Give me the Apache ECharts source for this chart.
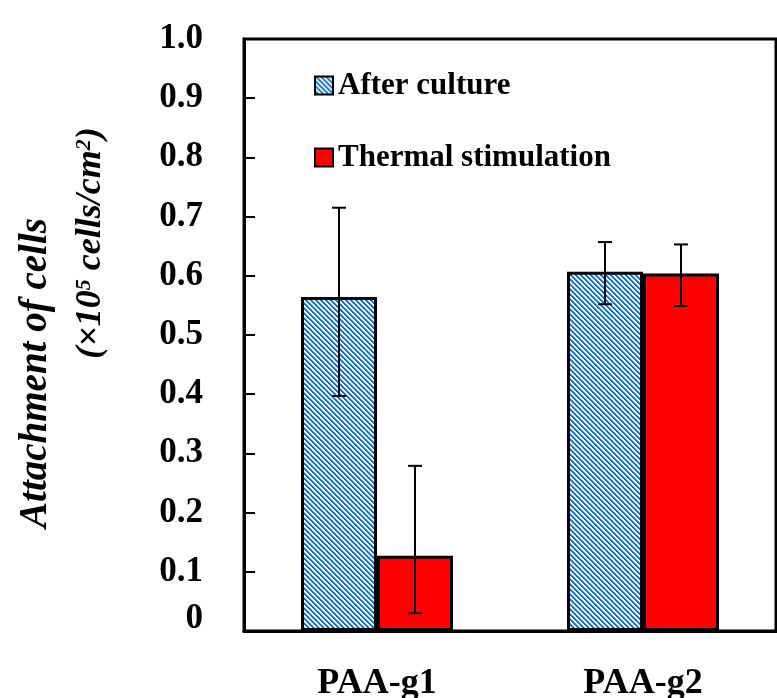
<!DOCTYPE html>
<html>
<head>
<meta charset="utf-8">
<script src="https://cdn.jsdelivr.net/npm/echarts@6/dist/echarts.min.js"></script>
<style>
  html, body { margin: 0; padding: 0; background: #fff; }
  #chart { width: 777px; height: 698px; }
</style>
</head>
<body>
<div id="chart"></div>
<script>
var categories = ['PAA-g1', 'PAA-g2'];
var seriesNames = ['After culture', 'Thermal stimulation'];
var afterCulture = [0.564, 0.607];
var afterLow = [0.397, 0.552];
var afterHigh = [0.715, 0.657];
var thermal = [0.127, 0.604];
var thermalLow = [0.030, 0.549];
var thermalHigh = [0.279, 0.653];
var yTicks = [0, 0.1, 0.2, 0.3, 0.4, 0.5, 0.6, 0.7, 0.8, 0.9, 1.0];

var serif = '"Liberation Serif", "Times New Roman", serif';
var barW = 76;

// blue / white diagonal hatch, 5px period
function hatch () {
  var s = 5;
  var shades = [[16, 112, 196], [16, 112, 196], [120, 176, 226], [255, 255, 255], [255, 255, 255]];
  var c = document.createElement('canvas');
  c.width = s; c.height = s;
  var ctx = c.getContext('2d');
  var img = ctx.createImageData(s, s);
  for (var y = 0; y < s; y++) {
    for (var x = 0; x < s; x++) {
      var i = (y * s + x) * 4;
      var col = shades[(x - y + s * 2) % s];
      img.data[i] = col[0];
      img.data[i + 1] = col[1];
      img.data[i + 2] = col[2];
      img.data[i + 3] = 255;
    }
  }
  ctx.putImageData(img, 0, 0);
  return c;
}
var bluePattern = { image: hatch(), repeat: 'repeat' };

function errData (low, high) {
  return low.map(function (v, i) { return [i, v, high[i]]; });
}

function errBar (offset) {
  return function (params, api) {
    var top = api.coord([api.value(0), api.value(2)]);
    var bot = api.coord([api.value(0), api.value(1)]);
    var x = top[0] + offset;
    var st = { stroke: '#000', lineWidth: 2 };
    return {
      type: 'group',
      children: [
        { type: 'line', shape: { x1: x, y1: top[1], x2: x, y2: bot[1] }, style: st },
        { type: 'line', shape: { x1: x - 7, y1: top[1], x2: x + 7, y2: top[1] }, style: st },
        { type: 'line', shape: { x1: x - 7, y1: bot[1], x2: x + 7, y2: bot[1] }, style: st }
      ]
    };
  };
}

var chart = echarts.init(document.getElementById('chart'));
var option = {
  animation: false,
  backgroundColor: '#fff',
  grid: {
    left: 244, right: 1, top: 39, bottom: 67,
    show: true, borderColor: '#000', borderWidth: 3,
    outerBoundsMode: 'none'
  },
  legend: {
    orient: 'vertical',
    left: 314, top: 70, padding: 0,
    itemWidth: 18, itemHeight: 18, itemGap: 41,
    icon: 'rect',
    data: seriesNames,
    itemStyle: { borderColor: '#000', borderWidth: 2 },
    textStyle: { fontFamily: serif, fontWeight: 'bold', fontSize: 31, color: '#000' }
  },
  xAxis: {
    type: 'category',
    data: categories,
    axisLine: { lineStyle: { color: '#000', width: 3 } },
    axisTick: { inside: true, length: 10, lineStyle: { color: '#000', width: 2 } },
    axisLabel: { margin: 35, fontFamily: serif, fontWeight: 'bold', fontSize: 36, color: '#000' }
  },
  yAxis: {
    type: 'value',
    min: 0, max: 1, interval: 0.1,
    splitLine: { show: false },
    axisLine: { show: true, lineStyle: { color: '#000', width: 3 } },
    axisTick: { show: true, inside: true, length: 11, lineStyle: { color: '#000', width: 2 } },
    axisLabel: {
      margin: 41,
      fontFamily: serif, fontWeight: 'bold', fontSize: 35, color: '#000',
      formatter: function (v) {
        var i = yTicks.indexOf(Math.round(v * 10) / 10);
        return i === 0 ? '{z|0}' : yTicks[i].toFixed(1);
      },
      rich: {
        z: { fontFamily: serif, fontWeight: 'bold', fontSize: 35, color: '#000', padding: [0, 0, 24, 0] }
      }
    }
  },
  graphic: [
    {
      type: 'text', x: 36, y: 373, rotation: Math.PI / 2,
      style: {
        text: 'Attachment of cells',
        font: 'italic bold 39px ' + serif,
        fill: '#000', align: 'center', verticalAlign: 'middle'
      }
    },
    {
      type: 'text', x: 91, y: 243, rotation: Math.PI / 2,
      style: {
        text: '(\u00d710{sup|5} cells/cm{sup|2})',
        font: 'italic bold 36px ' + serif,
        fill: '#000', align: 'center', verticalAlign: 'middle',
        rich: {
          sup: { font: 'italic bold 22px ' + serif, fill: '#000', verticalAlign: 'top' }
        }
      }
    }
  ],
  series: [
    {
      name: seriesNames[0], type: 'bar', data: afterCulture,
      barWidth: barW, barGap: '0%',
      itemStyle: { color: bluePattern, borderColor: '#000', borderWidth: 3 }
    },
    {
      name: seriesNames[1], type: 'bar', data: thermal,
      barWidth: barW, barGap: '0%',
      itemStyle: { color: '#ff0000', borderColor: '#000', borderWidth: 3 }
    },
    {
      type: 'custom', z: 5, data: errData(afterLow, afterHigh),
      encode: { x: 0, y: [1, 2] }, renderItem: errBar(-barW / 2)
    },
    {
      type: 'custom', z: 5, data: errData(thermalLow, thermalHigh),
      encode: { x: 0, y: [1, 2] }, renderItem: errBar(barW / 2)
    }
  ]
};
chart.setOption(option);
</script>
</body>
</html>
